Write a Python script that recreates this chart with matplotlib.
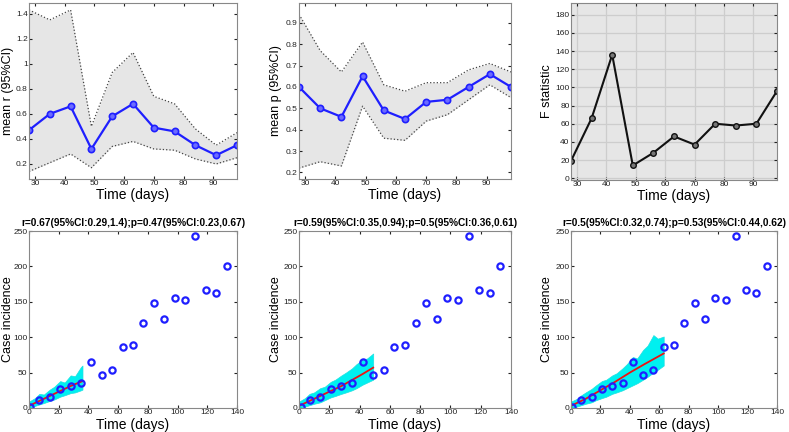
import matplotlib
matplotlib.use('Agg')
import matplotlib.pyplot as plt
from matplotlib.ticker import FormatStrFormatter

plt.rcParams['font.family'] = ['Liberation Sans', 'DejaVu Sans']

# top row: estimates over time windows
t_win = [28, 35, 42, 49, 56, 63, 70, 77, 84, 91, 98]
r_mean = [0.47, 0.60, 0.66, 0.32, 0.58, 0.68, 0.49, 0.46, 0.35, 0.27, 0.35]
r_hi = [1.43, 1.35, 1.43, 0.50, 0.93, 1.09, 0.74, 0.68, 0.48, 0.35, 0.45]
r_lo = [0.14, 0.21, 0.28, 0.17, 0.34, 0.38, 0.32, 0.31, 0.24, 0.20, 0.25]
p_mean = [0.60, 0.50, 0.46, 0.65, 0.49, 0.45, 0.53, 0.54, 0.60, 0.66, 0.60]
p_hi = [0.94, 0.77, 0.67, 0.81, 0.61, 0.58, 0.62, 0.62, 0.68, 0.71, 0.67]
p_lo = [0.22, 0.25, 0.23, 0.51, 0.36, 0.35, 0.44, 0.47, 0.54, 0.61, 0.55]
f_stat = [19, 66, 136, 14, 28, 46, 37, 60, 58, 60, 96]

# bottom row: incidence data
days = [1, 7, 14, 21, 28, 35, 42, 49, 56, 63, 70, 77, 84, 91, 98, 105, 112, 119, 126, 133]
cases = [2, 11, 16, 27, 31, 36, 65, 47, 54, 86, 89, 120, 148, 126, 156, 152, 243, 167, 163, 200]

titles = ['r=0.67(95%CI:0.29,1.4);p=0.47(95%CI:0.23,0.67)',
          'r=0.59(95%CI:0.35,0.94);p=0.5(95%CI:0.36,0.61)',
          'r=0.5(95%CI:0.32,0.74);p=0.53(95%CI:0.44,0.62)']

# simulated fit envelopes and best fit
env_x = [[0, 4, 7, 10, 14, 17, 21, 24, 28, 31, 35, 36],
         [0, 4, 7, 10, 14, 17, 21, 24, 28, 31, 35, 38, 42, 45, 49],
         [0, 4, 7, 10, 14, 17, 21, 24, 28, 31, 35, 38, 42, 45, 49, 52, 56, 59, 63]]
env_hi = [[9, 14, 20, 19, 26, 30, 38, 36, 46, 45, 58, 60],
          [9, 14, 20, 22, 28, 30, 37, 40, 46, 50, 56, 62, 68, 70, 77],
          [9, 13, 18, 22, 27, 32, 38, 40, 46, 49, 56, 62, 72, 70, 82, 88, 103, 98, 101]]
env_lo = [[0, 3, 5, 7, 10, 12, 16, 18, 21, 22, 25, 26],
          [0, 2, 4, 6, 8, 11, 15, 17, 20, 22, 25, 28, 33, 36, 40],
          [0, 2, 4, 6, 8, 11, 14, 16, 20, 22, 25, 28, 32, 35, 40, 44, 50, 54, 60]]
fit_x = [[0, 14, 28, 36],
         [0, 14, 28, 42, 49],
         [0, 10, 20, 30, 40, 50, 63]]
fit_y = [[3, 17, 31, 38],
         [3, 17, 31, 48, 57],
         [3, 13, 25, 37, 50, 62, 77]]

W, H = 789, 432
fig = plt.figure(figsize=(W / 100, H / 100), dpi=100)

cols = [(29, 237), (299, 511), (571, 777)]
ylab_off = [21, 23, 24]  # px from axes left to y label centre


def add_ax(x0, x1, y0, y1):
    return fig.add_axes([x0 / W, 1 - y1 / H, (x1 - x0) / W, (y1 - y0) / H])


def style(ax, i, xlab_off):
    for s in ax.spines.values():
        s.set_color('#888888')
        s.set_linewidth(0.8)
    ax.tick_params(direction='in', length=2, labelsize=6, colors='#222222',
                   top=True, right=True, pad=1)
    bb = ax.get_position()
    w_px = bb.width * W
    h_px = bb.height * H
    ax.yaxis.set_label_coords(-ylab_off[i] / w_px, 0.5)
    ax.xaxis.set_label_coords(0.5, -xlab_off / h_px)


blue = '#1f1fff'
XL = 10
YL = 9

# mean r
ax = add_ax(cols[0][0], cols[0][1], 3, 179)
ax.fill_between(t_win, r_lo, r_hi, color='#e6e6e6', lw=0)
ax.plot(t_win, r_hi, ':', color='#444444', lw=0.9)
ax.plot(t_win, r_lo, ':', color='#444444', lw=0.9)
ax.plot(t_win, r_mean, '-o', color=blue, lw=1.6, ms=4.5, mfc='#6b6bff', mew=1.2)
ax.set_xlim(28, 98)
ax.set_ylim(0.08, 1.485)
ax.set_yticks([0.2, 0.4, 0.6, 0.8, 1.0, 1.2, 1.4])
ax.yaxis.set_major_formatter(FormatStrFormatter('%g'))
ax.set_xticks([30, 40, 50, 60, 70, 80, 90])
ax.set_xlabel('Time (days)', fontsize=XL, va='top')
ax.set_ylabel('mean r (95%CI)', fontsize=YL, va='center')
style(ax, 0, 9)

# mean p
ax = add_ax(cols[1][0], cols[1][1], 3, 179)
ax.fill_between(t_win, p_lo, p_hi, color='#e6e6e6', lw=0)
ax.plot(t_win, p_hi, ':', color='#444444', lw=0.9)
ax.plot(t_win, p_lo, ':', color='#444444', lw=0.9)
ax.plot(t_win, p_mean, '-o', color=blue, lw=1.6, ms=4.5, mfc='#6b6bff', mew=1.2)
ax.set_xlim(28, 98)
ax.set_ylim(0.169, 0.993)
ax.set_yticks([0.2, 0.3, 0.4, 0.5, 0.6, 0.7, 0.8, 0.9])
ax.yaxis.set_major_formatter(FormatStrFormatter('%g'))
ax.set_xticks([30, 40, 50, 60, 70, 80, 90])
ax.set_xlabel('Time (days)', fontsize=XL, va='top')
ax.set_ylabel('mean p (95%CI)', fontsize=YL, va='center')
style(ax, 1, 9)

# F statistic
ax = add_ax(cols[2][0], cols[2][1], 3, 180)
ax.set_facecolor('#e6e6e6')
ax.grid(True, color='#cdcdcd', lw=0.9)
ax.set_axisbelow(True)
ax.plot(t_win, f_stat, '-o', color='#111111', lw=1.5, ms=4, mfc='#777777', mew=1.0)
ax.set_xlim(28, 98)
ax.set_ylim(-2, 193)
ax.set_yticks(range(0, 181, 20))
ax.set_xticks([30, 40, 50, 60, 70, 80, 90])
ax.set_xlabel('Time (days)', fontsize=XL, va='top')
ax.set_ylabel('F statistic', fontsize=YL, va='center')
style(ax, 2, 9)

# incidence panels
for i in range(3):
    ax = add_ax(cols[i][0], cols[i][1], 231, 408)
    ax.fill_between(env_x[i], env_lo[i], env_hi[i], color='#00f0f0', lw=0.5,
                    edgecolor='#20e0e0')
    ax.plot(fit_x[i], fit_y[i], '-', color='#ee1111', lw=1.3)
    ax.plot(days, cases, 'o', ms=4.5, mfc='none', mec=blue, mew=1.6)
    ax.set_xlim(0, 140)
    ax.set_ylim(0, 250)
    ax.set_xticks(range(0, 141, 20))
    ax.set_yticks(range(0, 251, 50))
    ax.set_xlabel('Time (days)', fontsize=XL, va='top')
    ax.set_ylabel('Case incidence', fontsize=YL, va='center')
    ax.set_title(titles[i], fontsize=7.3, fontweight='bold', pad=3.5)
    style(ax, i, 9.5)

fig.savefig('out.png', dpi=100)
